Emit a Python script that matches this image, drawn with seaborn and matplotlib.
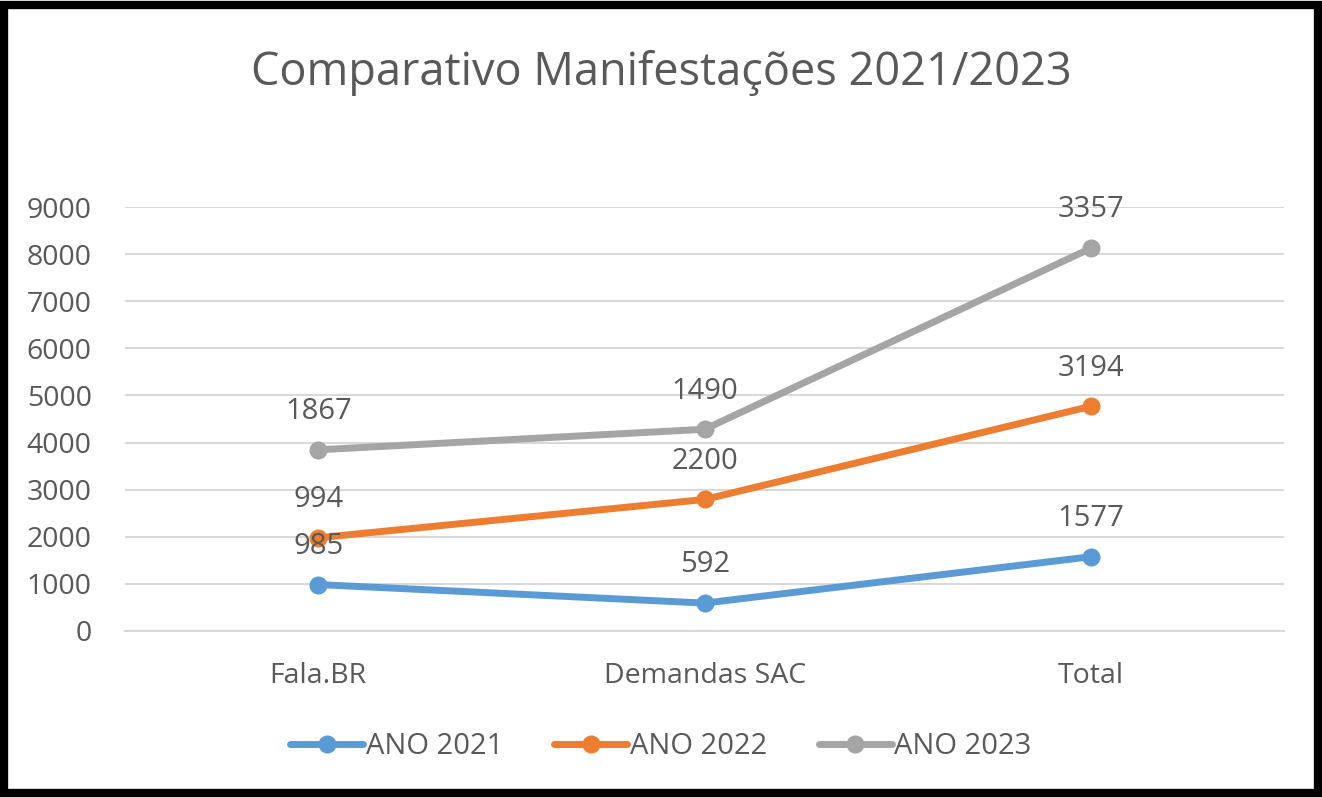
import matplotlib
matplotlib.use("Agg")
import matplotlib.pyplot as plt
import seaborn as sns
import pandas as pd
import numpy as np
from matplotlib.patches import Rectangle

categories = ["Fala.BR", "Demandas SAC", "Total"]
series_names = ["ANO 2021", "ANO 2022", "ANO 2023"]
ano_2021 = [985, 592, 1577]
ano_2022 = [994, 2200, 3194]
ano_2023 = [1867, 1490, 3357]
y_ticks = [0, 1000, 2000, 3000, 4000, 5000, 6000, 7000, 8000, 9000]
title = "Comparativo Manifestações 2021/2023"

colors = ["#5B9BD5", "#ED7D31", "#A5A5A5"]
text_color = "#595959"

sns.set_theme(style="white")
plt.rcParams["font.family"] = ["Open Sans", "DejaVu Sans"]

# stacked line chart
raw = [ano_2021, ano_2022, ano_2023]
stacked = np.cumsum(np.array(raw), axis=0)
rows = []
for s, name in enumerate(series_names):
    for i, cat in enumerate(categories):
        rows.append({"x": i, "cat": cat, "serie": name,
                     "value": stacked[s][i], "label": raw[s][i]})
df = pd.DataFrame(rows)

fig = plt.figure(figsize=(13.22, 7.98), dpi=100)
ax = fig.add_axes([0.0946, 0.2093, 0.877, 0.5313])

sns.lineplot(data=df, x="x", y="value", hue="serie", palette=colors,
             marker="o", markersize=13, linewidth=5, markeredgewidth=0,
             ax=ax, legend=True)

for _, r in df.iterrows():
    ax.annotate(str(r["label"]), (r["x"], r["value"]), xytext=(0, 17),
                textcoords="offset points", ha="center", va="bottom",
                fontsize=21, color=text_color)

ax.set_xlim(-0.5, 2.5)
ax.set_ylim(0, 9000)
ax.set_yticks(y_ticks)
ax.set_yticklabels([str(t) for t in y_ticks])
ax.set_xticks(range(len(categories)))
ax.set_xticklabels(categories)
ax.tick_params(axis="both", labelsize=20.5, colors=text_color, length=0)
ax.tick_params(axis="x", pad=22)
ax.tick_params(axis="y", pad=24)
ax.set_xlabel("")
ax.set_ylabel("")
ax.grid(axis="y", color="#D9D9D9", linewidth=1.5)
ax.set_axisbelow(True)
for sp in ["top", "right", "left"]:
    ax.spines[sp].set_visible(False)
ax.spines["bottom"].set_color("#D9D9D9")
ax.spines["bottom"].set_linewidth(1.5)

handles, labels = ax.get_legend_handles_labels()
ax.legend(handles, labels, loc="center", bbox_to_anchor=(0.5, 0.064),
          bbox_transform=fig.transFigure, ncol=3, frameon=False,
          fontsize=21, handlelength=2.5, handletextpad=0.1, columnspacing=1.75,
          labelcolor=text_color)

fig.text(0.5, 0.908, title, ha="center", va="center", fontsize=32.5,
         color=text_color)

fig.patches.append(Rectangle((4/1322, 5/798), 1 - 8/1322, 1 - 10/798,
                             transform=fig.transFigure, fill=False,
                             edgecolor="black", linewidth=6))

fig.savefig("out.png", dpi=100)
